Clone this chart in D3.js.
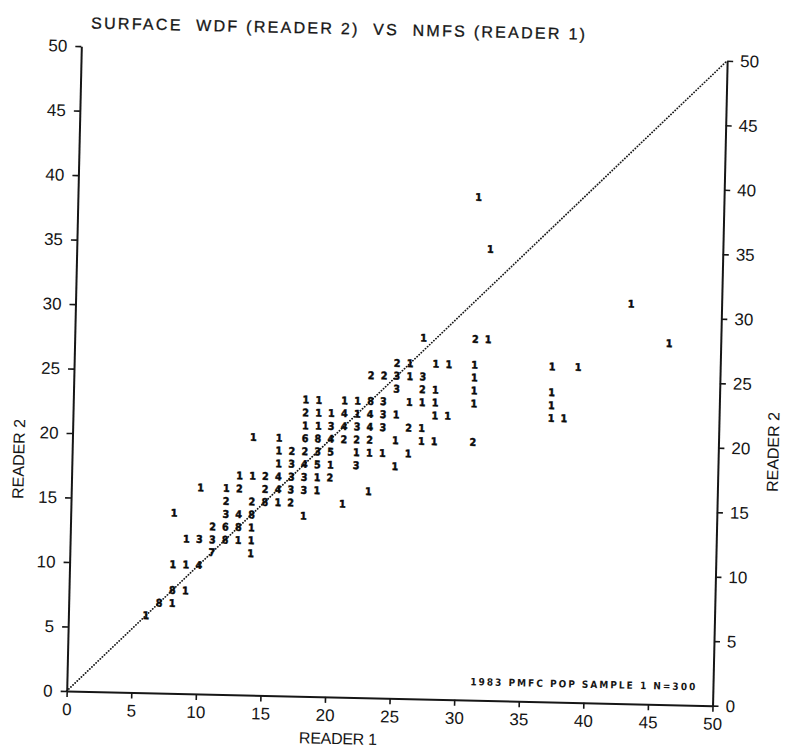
<!DOCTYPE html>
<html>
<head>
<meta charset="utf-8">
<script src="https://cdn.jsdelivr.net/npm/d3@7/dist/d3.min.js"></script>
<style>
  html, body { margin: 0; padding: 0; background: #fff; }
  svg { display: block; }
</style>
</head>
<body>
<svg id="chart" width="789" height="747"></svg>
<script>
// ---- data ----
const titleText = "SURFACE  WDF (READER 2)  VS  NMFS (READER 1)";
const xLabel = "READER 1";
const yLabel = "READER 2";
const noteText = "1983 PMFC POP SAMPLE 1 N=300";
const tickValues = [0, 5, 10, 15, 20, 25, 30, 35, 40, 45, 50];

// reader 1 value, reader 2 value, number of fish at that pair
const reader1 = [31,32,43,27,31,32,46,25,26,28,29,31,37,39,23,24,25,26,27,31,25,27,28,31,37,
  18,19,21,22,23,24,26,27,28,31,37,18,19,20,21,22,23,24,25,28,29,37,38,
  18,19,20,21,22,23,24,26,27,14,16,18,19,20,21,22,23,25,27,28,31,
  16,17,18,19,20,22,23,24,26,16,17,18,19,20,22,25,13,14,15,16,17,18,19,20,
  10,12,13,15,16,17,18,19,23,12,14,15,16,17,21,8,12,13,14,18,11,12,13,14,
  9,10,11,12,13,14,11,14,8,9,10,8,9,7,8,6];
const reader2 = [39,35,31,28,28,28,28,26,26,26,26,26,26,26,25,25,25,25,25,25,24,24,24,24,24,
  23,23,23,23,23,23,23,23,23,23,23,22,22,22,22,22,22,22,22,22,22,22,22,
  21,21,21,21,21,21,21,21,21,20,20,20,20,20,20,20,20,20,20,20,20,
  19,19,19,19,19,19,19,19,19,18,18,18,18,18,18,18,17,17,17,17,17,17,17,17,
  16,16,16,16,16,16,16,16,16,15,15,15,15,15,15,14,14,14,14,14,13,13,13,13,
  12,12,12,12,12,12,11,11,10,10,10,8,8,7,7,6];
const counts = [1,1,1,1,2,1,1,2,1,1,1,1,1,1,2,2,3,1,3,1,3,2,1,1,1,
  1,1,1,1,8,3,1,1,1,1,1,2,1,1,4,1,4,3,1,1,1,1,1,
  1,1,3,4,3,4,3,2,1,1,1,6,8,4,2,2,2,1,1,1,2,
  1,2,2,3,5,1,1,1,1,1,3,4,5,1,3,1,1,1,2,4,3,3,1,2,
  1,1,2,2,4,3,3,1,1,2,2,8,1,2,1,1,3,4,8,1,2,6,8,1,
  1,3,3,8,1,1,7,1,1,1,4,8,1,8,1,1];

// ---- drawing ----
const svg = d3.select("#chart");
svg.append("rect").attr("width", 789).attr("height", 747).attr("fill", "#fff");

const x0 = 66.7, y0 = 691, plotW = 646, plotH = 645;
const g = svg.append("g").attr("transform", `rotate(1.3, ${x0}, ${y0})`);

const x = d3.scaleLinear().domain([0, 50]).range([x0, x0 + plotW]);
const y = d3.scaleLinear().domain([0, 50]).range([y0, y0 - plotH]);

const ink = "#161616";
const tickFont = "'Liberation Sans', Arial, sans-serif";

function styleAxis(sel) {
  sel.select(".domain").attr("stroke", ink).attr("stroke-width", 2);
  sel.selectAll(".tick line").attr("stroke", ink).attr("stroke-width", 1.6);
  sel.selectAll(".tick text")
    .attr("fill", ink)
    .style("font-family", tickFont)
    .style("font-size", "17px");
}

g.append("g")
  .attr("transform", `translate(0,${y0})`)
  .call(d3.axisBottom(x).tickValues(tickValues).tickFormat(d3.format("d"))
        .tickSize(6).tickSizeOuter(0).tickPadding(6))
  .call(styleAxis);

g.append("g")
  .attr("transform", `translate(${x0},0)`)
  .call(d3.axisLeft(y).tickValues(tickValues).tickFormat(d3.format("d"))
        .tickSize(6).tickSizeOuter(0).tickPadding(8))
  .call(styleAxis);

g.append("g")
  .attr("transform", `translate(${x0 + plotW},0)`)
  .call(d3.axisRight(y).tickValues(tickValues).tickFormat(d3.format("d"))
        .tickSize(6).tickSizeOuter(0).tickPadding(7))
  .call(styleAxis);

// dotted 1:1 line
g.append("line")
  .attr("x1", x(0)).attr("y1", y(0))
  .attr("x2", x(50)).attr("y2", y(50))
  .attr("stroke", ink)
  .attr("stroke-width", 1.8)
  .attr("stroke-linecap", "round")
  .attr("stroke-dasharray", "0.1 2.8");

// count digits
const pts = reader1.map((r1, i) => ({ r1, r2: reader2[i], n: counts[i] }));
g.append("g").selectAll("text")
  .data(pts)
  .join("text")
  .attr("x", d => x(d.r1))
  .attr("y", d => y(d.r2))
  .attr("dy", "0.36em")
  .attr("text-anchor", "middle")
  .attr("fill", "#0a0a0a")
  .attr("stroke", "#0a0a0a")
  .attr("stroke-width", 0.5)
  .style("font-family", "'DejaVu Sans Condensed', 'DejaVu Sans', sans-serif")
  .style("font-weight", "bold")
  .style("font-size", "10.5px")
  .text(d => d.n);

// title
g.append("text")
  .attr("x", 76).attr("y", 28)
  .attr("textLength", 494).attr("lengthAdjust", "spacing")
  .style("white-space", "pre")
  .style("font-family", tickFont)
  .style("font-size", "16px")
  .attr("fill", ink)
  .attr("stroke", ink).attr("stroke-width", 0.3)
  .text(titleText);

// axis titles
g.append("text")
  .attr("x", 339).attr("y", 738)
  .attr("text-anchor", "middle")
  .style("font-family", tickFont).style("font-size", "16px")
  .attr("fill", ink)
  .attr("textLength", 78).attr("lengthAdjust", "spacing")
  .text(xLabel);

g.append("text")
  .attr("transform", "translate(19,460) rotate(-90)")
  .attr("text-anchor", "middle")
  .style("font-family", tickFont).style("font-size", "16px")
  .attr("fill", ink)
  .attr("textLength", 80).attr("lengthAdjust", "spacing")
  .text(yLabel);

g.append("text")
  .attr("transform", "translate(773,436) rotate(-90)")
  .attr("text-anchor", "middle")
  .style("font-family", tickFont).style("font-size", "16px")
  .attr("fill", ink)
  .attr("textLength", 80).attr("lengthAdjust", "spacing")
  .text(yLabel);

// sample note
g.append("text")
  .attr("x", 470).attr("y", 676)
  .attr("textLength", 225).attr("lengthAdjust", "spacing")
  .style("font-family", "'DejaVu Sans Condensed', 'DejaVu Sans', sans-serif")
  .style("font-weight", "bold")
  .style("font-size", "10px")
  .attr("fill", ink)
  .text(noteText);
</script>
</body>
</html>
